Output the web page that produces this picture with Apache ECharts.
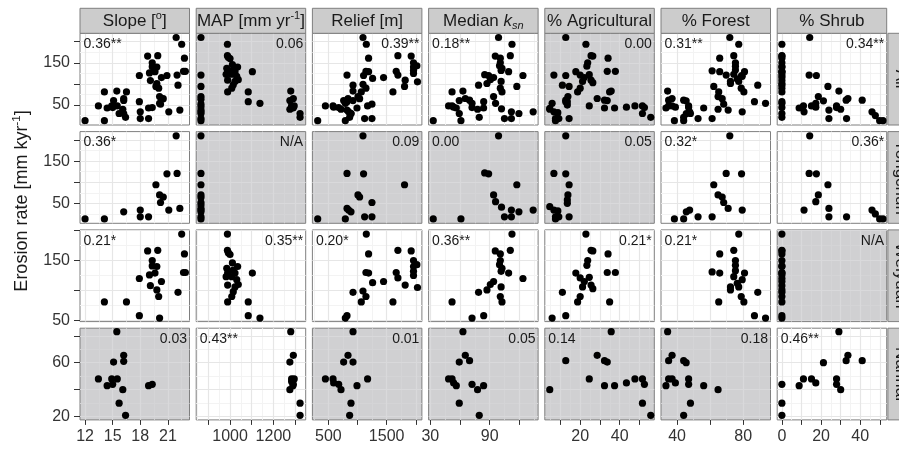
<!DOCTYPE html>
<html>
<head>
<meta charset="utf-8">
<script src="https://cdn.jsdelivr.net/npm/echarts@6/dist/echarts.min.js"></script>
<style>
html,body{margin:0;padding:0;background:#fff;}
#chart{width:899px;height:449px;}
</style>
</head>
<body>
<div id="chart"></div>
<script>
// ---------------- DATA (x value, erosion rate [mm/kyr]) ----------------
const yongchunSlope = [[12.0,13],[14.1,13],[16.2,30],[18.0,34],[18.0,18],[18.9,18],[19.7,94],[20.1,70],[20.5,65],[20.2,52],[21.1,34],[22.3,38],[20.9,120],[22.0,121],[21.9,210]];
const yongchunMAP = [[866,210],[866,121],[866,94],[866,70],[866,64],[866,52],[866,46],[866,38],[866,34],[866,30],[866,18],[866,13]];
const yongchunRelief = [[317,13],[791,13],[820,121],[1104,120],[1094,210],[1807,94],[1008,70],[1036,65],[1248,52],[820,38],[848,34],[888,30],[1122,18],[1248,18]];
const yongchunKsn = [[33,13],[61,13],[99,210],[85,122],[89,120],[117.5,94],[94,70],[96,54],[102,41],[112,34],[119.6,30],[105,18],[112,18],[134,34]];
const yongchunAg = [[12.7,210],[6.7,121],[12.7,120],[14.4,94],[13.8,70],[13.5,58],[13.5,50],[4.6,42],[6.7,34],[8.7,32],[7.5,18],[9.2,18],[14.4,18],[7.5,13]];
const yongchunForest = [[38.4,13],[44,13],[45.6,30],[47.6,34],[52.7,18],[61.2,18],[71.9,210],[69.7,121],[79,120],[62.2,94],[64.8,70],[67.3,65],[68.2,52],[70.9,38],[79.4,34]];
const yongchunShrub = [[14.2,210],[13.9,121],[17.6,120],[23.5,94],[18.6,70],[17.3,54],[11.3,34],[24,38],[24,18],[33,18],[46,34],[47.7,25],[49.9,13],[51.6,13]];

const weiyuanSlope = [[22.5,194],[18.8,166],[19.9,167],[19.3,150],[19.3,141],[19.8,140],[19.6,129],[19.0,126],[22.8,161],[22.7,130],[22.9,130],[17.9,120],[19.1,108],[20.3,115],[19.8,101],[20.0,90],[22.1,97],[14.1,81],[16.5,81],[17.9,58],[20.1,54]];
const weiyuanMAP = [[988,194],[988,167],[992,163],[1000,160],[1011,146],[1035,140],[985,137],[1015,134],[989,129],[1023,129],[1103,129],[982,123],[1008,123],[1031,118],[989,109],[1023,106],[1038,110],[1015,98],[1008,90],[989,81],[1084,81],[1084,58],[1138,54]];
const weiyuanRelief = [[1151,194],[1190,161],[1693,167],[1921,166],[1961,150],[1961,140],[2019,143],[1961,132],[1961,125],[1145,130],[1190,129],[1664,130],[1693,121],[1447,115],[1259,113],[1818,109],[2029,105],[1094,99],[923,97],[1145,90],[1065,81],[1608,81],[820,58],[791,54]];
const weiyuanKsn = [[112.6,194],[95.7,166],[110.9,167],[100.8,161],[100.8,150],[100,143],[102.5,137],[101.6,132],[109.2,129],[123.7,120],[94,115],[90.7,110],[101.6,106],[87.3,101],[78.8,97],[100.8,90],[102.5,81],[52,81],[72.2,54],[84,58]];
const weiyuanAg = [[22.9,194],[25.5,167],[26.4,166],[34.1,161],[23.8,150],[23.4,142],[17.8,129],[33.7,130],[37.8,130],[20,121],[22.1,115],[24.6,122],[25.5,109],[26.4,103],[21.2,106],[11,97],[20,90],[18.7,81],[34.9,81],[5.8,54],[12.7,58]];
const weiyuanForest = [[77.3,194],[74.3,167],[65.8,161],[75.3,150],[75.3,142],[61.2,131],[65.8,129],[75.3,133],[80.8,129],[74.3,123],[79.4,118],[76.4,112],[72.3,106],[77.3,106],[72.3,101],[88.8,97],[78.8,90],[65.2,81],[80.4,81],[86.8,58],[93.5,54]];
const weiyuanShrub = [[0,194],[0,167],[0,166],[0,161],[0,150],[0,141],[0,140],[0,130],[0,129],[0,126],[0,120],[0,115],[0,108],[0,101],[0,97],[0,90],[0,81],[0,58],[0,54]];

const nanhaiSlope = [[15.45,83],[16.2,65.5],[15.1,60.5],[16.2,61],[13.45,48],[14.9,48],[15.5,48],[14.4,43],[15.0,44],[16.1,40],[18.9,43],[19.3,44],[15.7,30],[16.4,21]];
const nanhaiMAP = [[1280,83],[1292,65.5],[1276,60.5],[1284,48],[1296,48],[1292,44],[1290,43],[1276,40],[1284,46],[1323,30],[1323,21]];
const nanhaiRelief = [[923,83],[837,65.5],[762,60.5],[923,60.5],[449,48],[580,48],[591,45],[677,44],[717,40],[991,43],[1173,48],[888,30],[865,21]];
const nanhaiKsn = [[63,83],[65.4,65.5],[69.7,61.5],[59.3,60.5],[52,48],[53.6,45],[56.3,43],[72.2,44],[77.8,40],[83.9,43],[59.3,30],[79.5,21],[48.5,48]];
const nanhaiAg = [[35.7,83],[12.7,61.5],[28.6,65.5],[32.3,61.5],[33.7,60.5],[24.6,48],[4.6,40],[32.3,43],[37.4,43],[43.4,45],[47.7,48],[51.5,48],[52.5,44],[51.5,30],[55.7,21]];
const nanhaiForest = [[34.3,83],[37,65.5],[34.9,61.5],[44,61.5],[45.5,60],[34.9,48],[37,48],[33.3,43],[39,45],[47,48],[47,44],[56.1,43],[64.8,40],[48.1,30],[44,21]];
const nanhaiShrub = [[29.1,83],[33.7,65.5],[32.8,61.5],[41,61.5],[21.2,60],[11,48],[15.1,48],[17.3,45],[27.9,48],[27.9,44],[30,40],[8.8,43],[0,44],[0,30],[0,21]];

// facet labels
const columnLabels = ['Slope [{sup|o}]', 'MAP [mm yr{sup|-1}]', 'Relief [m]', 'Median {it|k}{sub|sn}', '% Agricultural', '% Forest', '% Shrub'];
const rowLabels = ['All', 'Yongchun', 'Weiyuan', 'Nanhai'];
const yTitle = 'Erosion rate [mm kyr{sup|-1}]';

// correlation annotations
const statText = [
  ['0.36**','0.06','0.39**','0.18**','0.00','0.31**','0.34**'],
  ['0.36*','N/A','0.09','0.00','0.05','0.32*','0.36*'],
  ['0.21*','0.35**','0.20*','0.36**','0.21*','0.21*','N/A'],
  ['0.03','0.43**','0.01','0.05','0.14','0.18','0.46**']
];
const significant = [
  [1,0,1,1,0,1,1],
  [1,0,0,0,0,1,1],
  [1,1,1,1,1,1,0],
  [0,1,0,0,0,0,1]
];

// axis scales
const xMins = [11.45, 844, 226, 28.3, 2.1, 30.3, -2.4];
const xMaxs = [23.35, 1349, 2105, 139, 57.5, 96.5, 53.5];
const xTicks = [[12,15,18,21],[900,1000,1100,1200,1300],[500,1000,1500,2000],[30,60,90,120],[10,20,30,40,50],[40,60,80],[0,10,20,30,40,50]];
const xTickLabels = [[12,15,18,21],[1000,1200],[500,1500],[30,90],[20,40],[40,80],[0,20,40]];
const xMinor = [[13.5,16.5,19.5,22.5],[850,950,1050,1150,1250],[250,750,1250,1750],[45,75,105,135],[5,15,25,35,45,55],[50,70,90],[5,15,25,35,45]];

const yMins = [2.7, 2.7, 48.2, 17.6];
const yMaxs = [220, 220, 201, 85.6];
const yTicks = [[50,100,150,200],[50,100,150,200],[50,100,150,200],[20,40,60,80]];
const yTickLabels = [[50,150],[50,150],[50,150],[20,60]];
const yMinor = [[25,75,125,175],[25,75,125,175],[75,125,175],[30,50,70]];

// ---------------- BUILD ----------------
const regionData = [
  [yongchunSlope, yongchunMAP, yongchunRelief, yongchunKsn, yongchunAg, yongchunForest, yongchunShrub],
  [weiyuanSlope, weiyuanMAP, weiyuanRelief, weiyuanKsn, weiyuanAg, weiyuanForest, weiyuanShrub],
  [nanhaiSlope, nanhaiMAP, nanhaiRelief, nanhaiKsn, nanhaiAg, nanhaiForest, nanhaiShrub]
];
const allData = [0,1,2,3,4,5,6].map(c => regionData[0][c].concat(regionData[1][c], regionData[2][c]));
const panelData = [allData, regionData[0], regionData[1], regionData[2]];

const FONT = '"Liberation Sans", Arial, Helvetica, sans-serif';
const PL = 80, PW = 109.5, PSTEP = 116.2;
const PT = 33.3, PH = 91.7, RSTEP = 98.3;
const STRIP_TOP = 8.3, STRIP_H = 25;
const TXT = '#1A1A1A';
const rightSideCells = [[0,1],[0,2],[0,4],[0,6],[1,1],[1,2],[1,4],[1,6],[2,1],[2,4],[2,6],[3,0],[3,2],[3,3],[3,5]];

const rich = {
  sup: {fontSize: 11, fill: TXT, color: TXT, lineHeight: 11, verticalAlign: 'top', fontFamily: FONT},
  it: {fontSize: 17, fontStyle: 'italic', fill: TXT, color: TXT, fontFamily: FONT},
  sub: {fontSize: 11, fontStyle: 'italic', fill: TXT, color: TXT, lineHeight: 11, verticalAlign: 'bottom', fontFamily: FONT}
};
const richTitle = {
  sup: {fontSize: 11.5, fill: TXT, color: TXT, lineHeight: 11.5, verticalAlign: 'top', fontFamily: FONT}
};

const option = {
  animation: false,
  backgroundColor: '#ffffff',
  grid: [], xAxis: [], yAxis: [], series: [], graphic: []
};

for (let r = 0; r < 4; r++) {
  for (let c = 0; c < 7; c++) {
    const idx = r * 7 + c;
    const left = PL + c * PSTEP;
    const top = PT + r * RSTEP;
    const grey = significant[r][c] === 0;
    const isBottom = r === 3, isLeft = c === 0;

    option.grid.push({
      left: left, top: top, width: PW, height: PH,
      show: true, backgroundColor: grey ? '#D0D0D2' : '#FFFFFF',
      borderColor: '#7F7F7F', borderWidth: 1, containLabel: false, outerBoundsMode: 'none'
    });
    option.xAxis.push({
      type: 'value', gridIndex: idx, min: xMins[c], max: xMaxs[c],
      axisLine: {show: false}, splitLine: {show: false},
      axisTick: {show: isBottom, length: 5, lineStyle: {color: '#333333', width: 1}, customValues: xTicks[c]},
      axisLabel: {show: isBottom, customValues: xTickLabels[c], formatter: v => String(v),
        fontSize: 16, color: '#333333', fontFamily: FONT, margin: 9}
    });
    option.yAxis.push({
      type: 'value', gridIndex: idx, min: yMins[r], max: yMaxs[r],
      axisLine: {show: false}, splitLine: {show: false},
      axisTick: {show: isLeft, length: 6, lineStyle: {color: '#333333', width: 1}, customValues: yTicks[r]},
      axisLabel: {show: isLeft, customValues: yTickLabels[r], formatter: v => String(v),
        fontSize: 16, color: '#333333', fontFamily: FONT, margin: 10}
    });

    const majC = grey ? '#D9D9DB' : '#E6E6E6';
    const minC = grey ? '#D4D4D6' : '#F3F3F3';
    const lines = [];
    xMinor[c].forEach(v => lines.push({xAxis: v, lineStyle: {color: minC, width: 1, type: 'solid'}}));
    yMinor[r].forEach(v => lines.push({yAxis: v, lineStyle: {color: minC, width: 1, type: 'solid'}}));
    xTicks[c].forEach(v => lines.push({xAxis: v, lineStyle: {color: majC, width: 1.2, type: 'solid'}}));
    yTicks[r].forEach(v => lines.push({yAxis: v, lineStyle: {color: majC, width: 1.2, type: 'solid'}}));

    option.series.push({
      type: 'scatter', xAxisIndex: idx, yAxisIndex: idx,
      data: panelData[r][c], symbol: 'circle', symbolSize: 7.2,
      itemStyle: {color: '#000000', opacity: 1}, z: 3, silent: true,
      emphasis: {disabled: true},
      markLine: {z: 1, silent: true, symbol: ['none', 'none'], label: {show: false},
        animation: false, emphasis: {disabled: true}, data: lines}
    });

    // annotation
    const txt = statText[r][c];
    const rightSide = rightSideCells.some(p => p[0] === r && p[1] === c);
    option.graphic.push({
      type: 'text', z: 20,
      x: rightSide ? left + PW - 2.5 : left + 3.5,
      y: top + 11,
      style: {text: txt, fontSize: 14, fontFamily: FONT, fill: TXT,
        align: rightSide ? 'right' : 'left', verticalAlign: 'middle'}
    });
  }
}

// column strips
for (let c = 0; c < 7; c++) {
  const left = PL + c * PSTEP;
  option.graphic.push({type: 'rect', z: 10,
    shape: {x: left, y: STRIP_TOP, width: PW, height: STRIP_H},
    style: {fill: '#CCCCCC', stroke: '#7F7F7F', lineWidth: 1}});
  option.graphic.push({type: 'text', z: 11,
    x: left + PW / 2, y: STRIP_TOP + STRIP_H / 2 + 0.5,
    style: {text: columnLabels[c], rich: rich, fontSize: 17, lineHeight: 21, fontFamily: FONT, fill: TXT,
      align: 'center', verticalAlign: 'middle'}});
}
// row strips
const stripX = PL + 6 * PSTEP + PW + 1.2;
for (let r = 0; r < 4; r++) {
  const top = PT + r * RSTEP;
  option.graphic.push({type: 'rect', z: 10,
    shape: {x: stripX, y: top, width: 25, height: PH},
    style: {fill: '#CCCCCC', stroke: '#7F7F7F', lineWidth: 1}});
  option.graphic.push({type: 'text', z: 11,
    x: stripX + 12.5, y: top + PH / 2, rotation: -Math.PI / 2,
    style: {text: rowLabels[r], fontSize: 17, fontFamily: FONT, fill: TXT,
      align: 'center', verticalAlign: 'middle'}});
}
// y-axis title
option.graphic.push({type: 'text', z: 11,
  x: 22, y: 201, rotation: Math.PI / 2,
  style: {text: yTitle, rich: richTitle, fontSize: 18, lineHeight: 22, fontFamily: FONT, fill: TXT,
    align: 'center', verticalAlign: 'middle'}});

const chart = echarts.init(document.getElementById('chart'), null, {renderer: 'canvas'});
chart.setOption(option);
</script>
</body>
</html>
